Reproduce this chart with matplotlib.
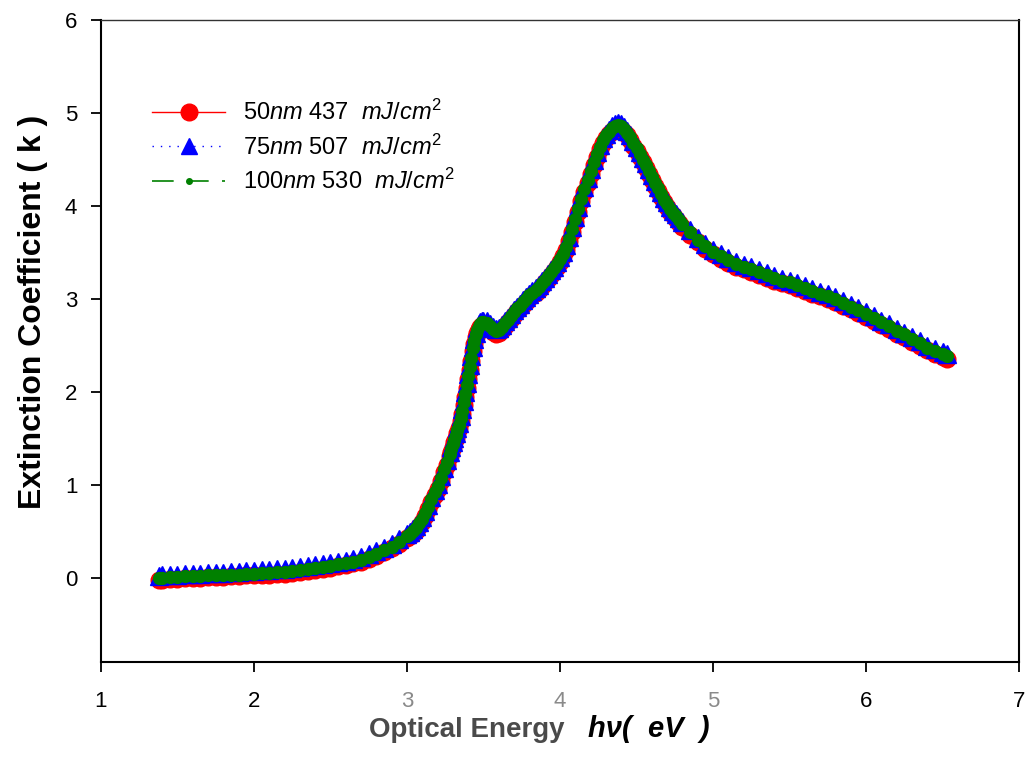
import matplotlib.pyplot as plt
from matplotlib.lines import Line2D

plt.rcParams['font.family'] = ['Liberation Sans', 'DejaVu Sans']
plt.rcParams['mathtext.fontset'] = 'custom'
plt.rcParams['mathtext.rm'] = 'Liberation Sans'
plt.rcParams['mathtext.it'] = 'Liberation Sans:italic'

# photon energy (eV), shared sampling of the three films
energy = [
    1.38, 1.40, 1.45, 1.50, 1.55, 1.60, 1.65, 1.70, 1.75, 1.80, 1.85, 1.90,
    1.95, 2.00, 2.05, 2.10, 2.15, 2.20, 2.25, 2.30, 2.35, 2.40, 2.45, 2.50,
    2.55, 2.60, 2.65, 2.70, 2.75, 2.80, 2.85, 2.90, 2.95, 3.00,
    3.02, 3.04, 3.06, 3.08, 3.10, 3.12, 3.14, 3.16, 3.18, 3.20, 3.22, 3.24,
    3.26, 3.28,
    3.29, 3.30, 3.31, 3.32, 3.33, 3.34, 3.35, 3.36, 3.37, 3.38, 3.39, 3.40,
    3.41, 3.42, 3.43, 3.44, 3.45, 3.46, 3.47, 3.48, 3.49, 3.50,
    3.52, 3.54, 3.56, 3.58, 3.60, 3.62, 3.64, 3.66, 3.68, 3.70,
    3.72, 3.74, 3.76, 3.78, 3.80, 3.82, 3.84, 3.86, 3.88, 3.90,
    3.92, 3.94, 3.96, 3.98, 4.00, 4.02, 4.04, 4.06, 4.08, 4.10,
    4.12, 4.14, 4.16, 4.18, 4.20, 4.22, 4.24, 4.26, 4.28, 4.30,
    4.32, 4.34, 4.36, 4.38, 4.40, 4.42, 4.44, 4.46, 4.48, 4.50,
    4.52, 4.54, 4.56, 4.58, 4.60, 4.62, 4.64, 4.66, 4.68, 4.70,
    4.72, 4.74, 4.76, 4.78, 4.80,
    4.85, 4.90, 4.95, 5.00, 5.05, 5.10, 5.15, 5.20, 5.25, 5.30, 5.35, 5.40,
    5.45, 5.50, 5.55, 5.60, 5.65, 5.70, 5.75, 5.80, 5.85, 5.90, 5.95, 6.00,
    6.05, 6.10, 6.15, 6.20, 6.25, 6.30, 6.35, 6.40, 6.45, 6.50, 6.53,
]

k_50nm = [
    -0.02, -0.02, -0.01, -0.01, 0.00, 0.00, 0.00, 0.01, 0.01, 0.01, 0.02, 0.02,
    0.03, 0.03, 0.04, 0.04, 0.05, 0.05, 0.06, 0.07, 0.08, 0.09, 0.10, 0.11,
    0.13, 0.14, 0.16, 0.18, 0.21, 0.24, 0.28, 0.32, 0.37, 0.43,
    0.45, 0.48, 0.51, 0.56, 0.61, 0.67, 0.74, 0.82, 0.90, 0.96, 1.05, 1.14,
    1.22, 1.31,
    1.36, 1.41, 1.46, 1.51, 1.56, 1.62, 1.69, 1.77, 1.86, 1.95, 2.05, 2.14,
    2.24, 2.34, 2.44, 2.52, 2.59, 2.64, 2.68, 2.70, 2.72, 2.72,
    2.71, 2.68, 2.65, 2.63, 2.64, 2.67, 2.71, 2.75, 2.79, 2.83,
    2.87, 2.90, 2.94, 2.97, 3.01, 3.04, 3.07, 3.10, 3.14, 3.18,
    3.22, 3.26, 3.30, 3.35, 3.40, 3.46, 3.53, 3.62, 3.72, 3.83,
    3.94, 4.05, 4.15, 4.25, 4.35, 4.44, 4.53, 4.61, 4.68, 4.73,
    4.77, 4.81, 4.83, 4.84, 4.83, 4.80, 4.76, 4.71, 4.65, 4.59,
    4.53, 4.47, 4.41, 4.35, 4.28, 4.22, 4.16, 4.10, 4.04, 3.99,
    3.94, 3.90, 3.86, 3.82, 3.78,
    3.69, 3.61, 3.54, 3.48, 3.43, 3.39, 3.35, 3.32, 3.29, 3.26, 3.23, 3.20,
    3.17, 3.15, 3.12, 3.09, 3.06, 3.03, 3.00, 2.97, 2.93, 2.89, 2.85, 2.81,
    2.77, 2.72, 2.68, 2.63, 2.59, 2.54, 2.50, 2.45, 2.41, 2.38, 2.36,
]

k_75nm = [
    0.02, 0.03, 0.04, 0.04, 0.05, 0.05, 0.05, 0.06, 0.06, 0.06, 0.07, 0.07,
    0.08, 0.08, 0.09, 0.09, 0.10, 0.10, 0.11, 0.12, 0.13, 0.14, 0.15, 0.16,
    0.18, 0.19, 0.21, 0.23, 0.26, 0.29, 0.33, 0.37, 0.42, 0.48,
    0.50, 0.53, 0.56, 0.61, 0.66, 0.72, 0.79, 0.87, 0.95, 1.01, 1.10, 1.19,
    1.27, 1.36,
    1.41, 1.46, 1.51, 1.56, 1.61, 1.67, 1.74, 1.82, 1.91, 2.00, 2.10, 2.19,
    2.29, 2.39, 2.49, 2.57, 2.64, 2.69, 2.73, 2.75, 2.77, 2.77,
    2.76, 2.73, 2.70, 2.68, 2.69, 2.72, 2.76, 2.80, 2.84, 2.88,
    2.92, 2.95, 2.99, 3.02, 3.06, 3.09, 3.12, 3.15, 3.19, 3.23,
    3.27, 3.31, 3.35, 3.40, 3.45, 3.51, 3.58, 3.67, 3.77, 3.88,
    3.99, 4.10, 4.20, 4.30, 4.40, 4.49, 4.58, 4.66, 4.73, 4.78,
    4.82, 4.86, 4.88, 4.89, 4.88, 4.85, 4.81, 4.76, 4.70, 4.64,
    4.58, 4.52, 4.46, 4.40, 4.33, 4.27, 4.21, 4.15, 4.09, 4.04,
    3.99, 3.95, 3.91, 3.87, 3.83,
    3.74, 3.66, 3.59, 3.53, 3.48, 3.44, 3.40, 3.37, 3.34, 3.31, 3.28, 3.25,
    3.22, 3.20, 3.17, 3.14, 3.11, 3.08, 3.05, 3.02, 2.98, 2.94, 2.90, 2.86,
    2.82, 2.77, 2.73, 2.68, 2.64, 2.59, 2.55, 2.50, 2.46, 2.43, 2.41,
]

k_100nm = [
    0.00, 0.00, 0.01, 0.01, 0.02, 0.02, 0.02, 0.03, 0.03, 0.03, 0.04, 0.04,
    0.05, 0.05, 0.06, 0.06, 0.07, 0.07, 0.08, 0.09, 0.10, 0.11, 0.12, 0.13,
    0.15, 0.16, 0.18, 0.20, 0.23, 0.26, 0.30, 0.34, 0.39, 0.45,
    0.48, 0.51, 0.54, 0.59, 0.64, 0.70, 0.77, 0.85, 0.93, 0.99, 1.08, 1.17,
    1.25, 1.34,
    1.39, 1.44, 1.49, 1.54, 1.59, 1.65, 1.72, 1.80, 1.89, 1.98, 2.08, 2.17,
    2.27, 2.37, 2.47, 2.55, 2.62, 2.67, 2.71, 2.73, 2.75, 2.75,
    2.74, 2.71, 2.68, 2.66, 2.67, 2.70, 2.74, 2.78, 2.82, 2.86,
    2.90, 2.93, 2.97, 3.00, 3.04, 3.07, 3.10, 3.13, 3.17, 3.21,
    3.25, 3.29, 3.33, 3.38, 3.43, 3.49, 3.56, 3.65, 3.75, 3.86,
    3.97, 4.08, 4.18, 4.28, 4.38, 4.47, 4.56, 4.64, 4.71, 4.76,
    4.80, 4.84, 4.86, 4.87, 4.86, 4.83, 4.79, 4.74, 4.68, 4.62,
    4.56, 4.50, 4.44, 4.38, 4.31, 4.25, 4.19, 4.13, 4.07, 4.02,
    3.97, 3.93, 3.89, 3.85, 3.81,
    3.72, 3.64, 3.57, 3.51, 3.46, 3.42, 3.38, 3.35, 3.32, 3.29, 3.26, 3.23,
    3.20, 3.18, 3.15, 3.12, 3.09, 3.06, 3.03, 3.00, 2.96, 2.92, 2.88, 2.84,
    2.80, 2.75, 2.71, 2.66, 2.62, 2.57, 2.53, 2.48, 2.44, 2.41, 2.39,
]

labels = [
    r"50$\mathit{nm}$ 437  $\mathit{mJ/cm}^2$",
    r"75$\mathit{nm}$ 507  $\mathit{mJ/cm}^2$",
    r"100$\mathit{nm}$ 530  $\mathit{mJ/cm}^2$",
]

fig = plt.figure(figsize=(10.28, 7.78), dpi=100)
ax = fig.add_axes([0.0982, 0.1491, 0.8931, 0.8252])

ax.plot(energy, k_50nm, color='red', lw=1, marker='o', ms=12, mec='red', zorder=2)
ax.plot(energy, k_75nm, color='blue', lw=1, ls=':', marker='^', ms=12.5, mec='blue', zorder=3)
ax.plot(energy, k_100nm, color='green', lw=1.2, ls=(0, (7, 4)), marker='o', ms=8.5,
        mec='green', zorder=4)

ax.set_xlim(1, 7)
ax.set_ylim(-0.9, 6)
ax.set_xticks([1, 2, 3, 4, 5, 6, 7])
ax.set_yticks([0, 1, 2, 3, 4, 5, 6])
ax.tick_params(axis='both', direction='out', labelsize=16, width=1.3, length=7)
ax.tick_params(axis='x', pad=14)
ax.tick_params(axis='y', pad=10)
ax.tick_params(top=False, right=False)
for s in ['left', 'bottom', 'right']:
    ax.spines[s].set_linewidth(1.5)
ax.spines['top'].set_linewidth(1.0)
ax.spines['top'].set_color('#333333')

# faded tick labels under the watermark
for lab in ax.get_xticklabels():
    if lab.get_text() in ('3', '4', '5'):
        lab.set_color('#8a8a8a')

ax.set_ylabel('Extinction Coefficient ( k )', fontsize=23, fontweight='bold')
ax.yaxis.set_label_coords(-0.058, 0.545)

fig.text(0.549, 0.053, 'Optical Energy', fontsize=20, fontweight='bold', color='#4a4a4a',
         ha='right', va='baseline')
fig.text(0.572, 0.053, 'h\u03bd(  eV  )', fontsize=21, fontweight='bold',
         fontstyle='italic', color='black', ha='left', va='baseline')

handles = [
    Line2D([], [], color='red', lw=1, marker='o', ms=12),
    Line2D([], [], color='blue', lw=1, ls=(0, (1, 5)), marker='^', ms=12),
    Line2D([], [], color='green', lw=1.2, ls=(0, (13, 8)), marker='o', ms=4),
]
fig.legend(handles, labels, loc='upper left', bbox_to_anchor=(0.148, 0.872),
           frameon=False, fontsize=17, handlelength=3.1, handletextpad=0.75,
           labelspacing=0.4, borderpad=0, borderaxespad=0)

fig.savefig('out.png', dpi=100)
